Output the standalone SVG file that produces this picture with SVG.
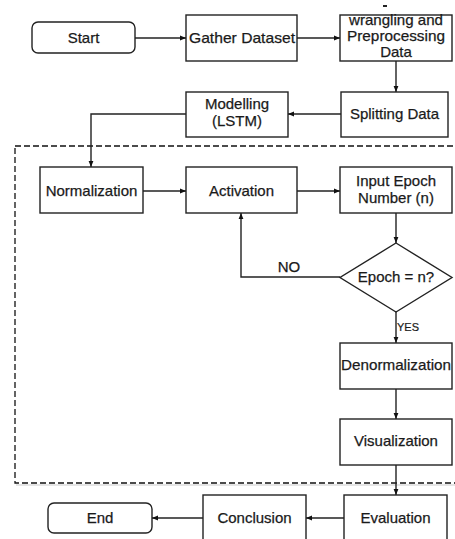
<svg xmlns="http://www.w3.org/2000/svg" width="455" height="539" viewBox="0 0 455 539">
  <defs>
    <marker id="arrow" viewBox="0 0 6 6" refX="6" refY="3" markerWidth="6" markerHeight="6" orient="auto" markerUnits="userSpaceOnUse">
      <path d="M0,0.6 L6,3 L0,5.4 Z" fill="#111"/>
    </marker>
    <style>
      .box { fill: #fff; stroke: #222; stroke-width: 1.4; }
      .lbl { font-family: "Liberation Sans", Arial, sans-serif; font-size: 15px; fill: #1a1a1a; stroke: #1a1a1a; stroke-width: 0.25; text-anchor: middle; }
      .small { font-family: "Liberation Sans", Arial, sans-serif; font-size: 11px; fill: #1a1a1a; stroke: #1a1a1a; stroke-width: 0.2; }
      .edge { fill: none; stroke: #222; stroke-width: 1.4; marker-end: url(#arrow); }
      .frame { fill: none; stroke: #111; stroke-width: 1.3; stroke-dasharray: 6 3; }
    </style>
  </defs>
  <rect width="455" height="539" fill="#fff"/>

  <!-- dashed frame around the training loop -->
  <rect class="frame" x="15" y="146" width="450" height="337"/>
  <line x1="16" y1="485" x2="455" y2="485" stroke="#ddd" stroke-width="1.5"/>

  <!-- connectors -->
  <g id="connectors">
    <path class="edge" d="M135,38 H186"/>
    <path class="edge" d="M297,38 H340"/>
    <path class="edge" d="M396,61 V92"/>
    <path class="edge" d="M341,114 H288"/>
    <path class="edge" d="M186,114 H91 V167"/>
    <path class="edge" d="M143,191 H186"/>
    <path class="edge" d="M297,191 H340"/>
    <path class="edge" d="M396,213 V243"/>
    <path class="edge" d="M340,277 H241 V213"/>
    <path class="edge" d="M396,312 V343"/>
    <path class="edge" d="M396,389 V419"/>
    <path class="edge" d="M396,465 V495"/>
    <path class="edge" d="M344,518 H306"/>
    <path class="edge" d="M203,518 H152"/>
    <text class="lbl" x="289" y="272">NO</text>
    <text class="small" x="397" y="331">YES</text>
  </g>

  <g id="start">
    <rect class="box" x="32" y="22" width="103" height="31" rx="6"/>
    <text class="lbl" x="83.5" y="43">Start</text>
  </g>
  <g id="gather">
    <rect class="box" x="186" y="15" width="111" height="46"/>
    <text class="lbl" x="242" y="43" textLength="106" lengthAdjust="spacingAndGlyphs">Gather Dataset</text>
  </g>
  <g id="wrangling">
    <rect x="383" y="5" width="4" height="2" fill="#222"/>
    <rect class="box" x="340" y="15" width="112" height="46"/>
    <text class="lbl" x="396" y="25" textLength="94" lengthAdjust="spacingAndGlyphs">wrangling and</text>
    <text class="lbl" x="396" y="41" textLength="98" lengthAdjust="spacingAndGlyphs">Preprocessing</text>
    <text class="lbl" x="396" y="57">Data</text>
  </g>
  <g id="splitting">
    <rect class="box" x="341" y="92" width="107" height="45"/>
    <text class="lbl" x="394.5" y="119">Splitting Data</text>
  </g>
  <g id="modelling">
    <rect class="box" x="186" y="92" width="102" height="45"/>
    <text class="lbl" x="237" y="109">Modelling</text>
    <text class="lbl" x="237" y="126">(LSTM)</text>
  </g>
  <g id="normalization">
    <rect class="box" x="40" y="167" width="103" height="46"/>
    <text class="lbl" x="91.5" y="196">Normalization</text>
  </g>
  <g id="activation">
    <rect class="box" x="186" y="167" width="111" height="46"/>
    <text class="lbl" x="241.5" y="196">Activation</text>
  </g>
  <g id="input-epoch">
    <rect class="box" x="340" y="167" width="112" height="46"/>
    <text class="lbl" x="396" y="186">Input Epoch</text>
    <text class="lbl" x="396" y="203">Number (n)</text>
  </g>
  <g id="epoch-check">
    <polygon class="box" points="396,243 452,277.5 396,312 340,277.5"/>
    <text class="lbl" x="396" y="282">Epoch = n?</text>
  </g>
  <g id="denormalization">
    <rect class="box" x="340" y="343" width="112" height="46"/>
    <text class="lbl" x="396" y="370" textLength="110" lengthAdjust="spacingAndGlyphs">Denormalization</text>
  </g>
  <g id="visualization">
    <rect class="box" x="340" y="419" width="112" height="46"/>
    <text class="lbl" x="396" y="446">Visualization</text>
  </g>
  <g id="evaluation">
    <rect class="box" x="344" y="495" width="103" height="60"/>
    <text class="lbl" x="395.5" y="523">Evaluation</text>
  </g>
  <g id="conclusion">
    <rect class="box" x="203" y="495" width="103" height="60"/>
    <text class="lbl" x="254.5" y="523">Conclusion</text>
  </g>
  <g id="end">
    <rect class="box" x="48" y="503" width="104" height="30" rx="6"/>
    <text class="lbl" x="100" y="523">End</text>
  </g>
</svg>
